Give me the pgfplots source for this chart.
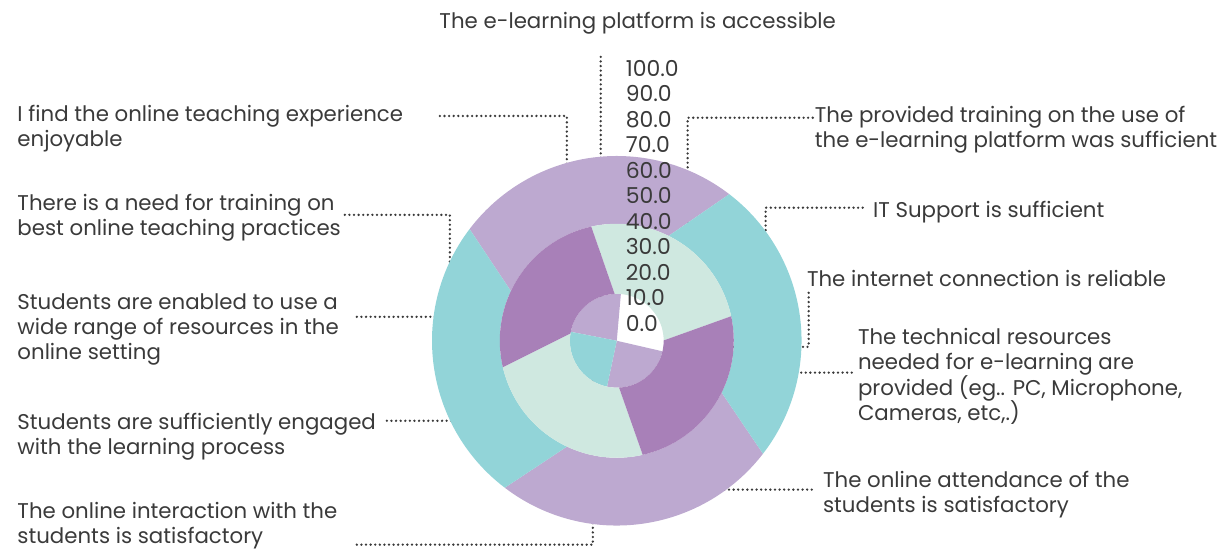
\documentclass[border=0pt]{standalone}
\usepackage{fontspec}
\setmainfont{Poppins}
\usepackage{pgfplots}
\pgfplotsset{compat=1.18}
\usepackage{pgfplotstable}
\definecolor{cLav}{HTML}{BDA9D0}
\definecolor{cTeal}{HTML}{92D4D8}
\definecolor{cMint}{HTML}{CFE8E0}
\definecolor{cPlum}{HTML}{A880B8}
\definecolor{txt}{HTML}{3A3A3A}

% ring sectors: start/end angle on the inner edge (ai) and outer edge (ao), radii
\pgfplotstableread{
x y ai1   ai2   ao1   ao2   rin   rout
0 0 85    169   85    169   0.01  18.4
0 0 258   347   258   347   0.01  18.4
0 0 63.7  154.9 52.5  142.8 45.9  72.5
0 0 244.8 333.7 232.7 322.3 45.9  72.5
}\lavsect
\pgfplotstableread{
x y ai1   ai2   ao1   ao2   rin   rout
0 0 169   258   169   258   0.01  18.4
0 0 -26.3 63.7  -37.7 52.5  45.9  72.5
0 0 154.9 244.8 142.8 232.7 45.9  72.5
}\tealsect
\pgfplotstableread{
x y ai1   ai2   ao1   ao2   rin   rout
0 0 0.4   92.6  12.1  102.6 18.4  45.9
0 0 171   272.8 193.1 282.8 18.4  45.9
}\mintsect
\pgfplotstableread{
x y ai1   ai2   ao1   ao2   rin   rout
0 0 92.6  171   102.6 193.1 18.4  45.9
0 0 272.8 360.4 282.8 372.1 18.4  45.9
}\plumsect

% one mark = one ring sector around the data point
\pgfdeclareplotmark{sector}{%
  \pgfmathsetmacro\SecRi{\SecRin*1.275}%
  \pgfmathsetmacro\SecRo{\SecRout*1.275}%
  \pgfpathmoveto{\pgfpointpolar{\SecAoa}{\SecRo bp}}%
  \pgfpatharc{\SecAoa}{\SecAob}{\SecRo bp}%
  \pgfpathlineto{\pgfpointpolar{\SecAib}{\SecRi bp}}%
  \pgfpatharc{\SecAib}{\SecAia}{\SecRi bp}%
  \pgfpathclose
  \pgfusepath{fill}%
}
\pgfplotsset{
  sect/.style={only marks, mark=sector, mark options={draw=none, fill=#1},
    visualization depends on={\thisrow{ai1}\as\SecAia},
    visualization depends on={\thisrow{ai2}\as\SecAib},
    visualization depends on={\thisrow{ao1}\as\SecAoa},
    visualization depends on={\thisrow{ao2}\as\SecAob},
    visualization depends on={\thisrow{rin}\as\SecRin},
    visualization depends on={\thisrow{rout}\as\SecRout}},
}

\begin{document}
\begin{tikzpicture}[
  lbl/.style={text=txt, inner sep=0pt, font=\fontsize{10.7}{12}\selectfont},
]
\begin{axis}[
  x=1.275bp, y=1.275bp,
  xmin=-242, xmax=241, ymin=-82.4, ymax=133.7,
  enlargelimits=false, clip=false, set layers, axis on top,
  axis x line=none, axis y line=middle,
  y axis line style={draw=none},
  xtick=\empty,
  ytick={0,10,...,100},
  major tick length=0pt,
  yticklabel style={anchor=west, xshift=1bp, yshift=8.8bp, text=txt,
    font=\fontsize{11}{12}\selectfont,
    /pgf/number format/fixed, /pgf/number format/fixed zerofill,
    /pgf/number format/precision=1, /pgf/number format/assume math mode=true},
  lead/.style={draw=txt, line width=1.3bp, line cap=round,
    dash pattern=on 0pt off 2.3bp},
]
\addplot[sect=cLav] table[x=x, y=y] {\lavsect};
\addplot[sect=cTeal] table[x=x, y=y] {\tealsect};
\addplot[sect=cMint] table[x=x, y=y] {\mintsect};
\addplot[sect=cPlum] table[x=x, y=y] {\plumsect};

% leader lines
\addplot[lead] coordinates {(-6.3,111.4) (-6.3,11.4)};
\addplot[lead] coordinates {(-69.4,88.2) (-19.6,88.2) (-19.6,64.3)};
\addplot[lead] coordinates {(76.9,87.5) (27.8,87.5) (27.8,25.1)};
\addplot[lead] coordinates {(96.5,52.2) (58.4,52.2) (58.4,30.6)};
\addplot[lead] coordinates {(75.3,18.8) (75.3,-2.4) (36.1,-2.4)};
\addplot[lead] coordinates {(92.2,-12.5) (2.0,-12.5)};
\addplot[lead] coordinates {(76.5,-58.4) (28.2,-58.4)};
\addplot[lead] coordinates {(-102,-80) (-9.4,-80) (-9.4,-9.4)};
\addplot[lead] coordinates {(-90.2,-31.4) (-19.2,-31.4)};
\addplot[lead] coordinates {(-102,9.4) (-32.2,9.4)};
\addplot[lead] coordinates {(-106.7,49.4) (-65.5,49.4) (-65.5,22.0)};

% labels
\node[lbl, anchor=base] at (axis cs:8.2,122.7) {The e-learning platform is accessible};

\node[lbl, anchor=base west] at (axis cs:-235.3,85.9) {I find the online teaching experience};
\node[lbl, anchor=base west] at (axis cs:-235.3,76.1) {enjoyable};
\node[lbl, anchor=base west] at (axis cs:-235.3,51.0) {There is a need for training on};
\node[lbl, anchor=base west] at (axis cs:-235.3,41.2) {best online teaching practices};
\node[lbl, anchor=base west] at (axis cs:-235.3,12.4) {Students are enabled to use a};
\node[lbl, anchor=base west] at (axis cs:-235.3,2.4) {wide range of resources in the};
\node[lbl, anchor=base west] at (axis cs:-235.3,-7.5) {online setting};
\node[lbl, anchor=base west] at (axis cs:-235.3,-34.9) {Students are sufficiently engaged};
\node[lbl, anchor=base west] at (axis cs:-235.3,-44.7) {with the learning process};
\node[lbl, anchor=base west] at (axis cs:-235.3,-69.8) {The online interaction with the};
\node[lbl, anchor=base west] at (axis cs:-235.3,-79.6) {students is satisfactory};

\node[lbl, anchor=base west] at (axis cs:77.6,85.5) {The provided training on the use of};
\node[lbl, anchor=base west] at (axis cs:77.6,75.7) {the e-learning platform was sufficient};
\node[lbl, anchor=base west] at (axis cs:100.4,48.2) {IT Support is sufficient};
\node[lbl, anchor=base west] at (axis cs:74.5,21.2) {The internet connection is reliable};
\node[lbl, anchor=base west] at (axis cs:94.5,-1.6) {The technical resources};
\node[lbl, anchor=base west] at (axis cs:94.5,-11.4) {needed for e-learning are};
\node[lbl, anchor=base west] at (axis cs:94.5,-21.6) {provided (eg.. PC, Microphone,};
\node[lbl, anchor=base west] at (axis cs:94.5,-31.4) {Cameras, etc,.)};
\node[lbl, anchor=base west] at (axis cs:80.8,-57.6) {The online attendance of the};
\node[lbl, anchor=base west] at (axis cs:80.8,-67.5) {students is satisfactory};
\end{axis}
\pgfresetboundingbox
\path[use as bounding box] (current axis.south west) rectangle (current axis.north east);
\end{tikzpicture}
\end{document}
